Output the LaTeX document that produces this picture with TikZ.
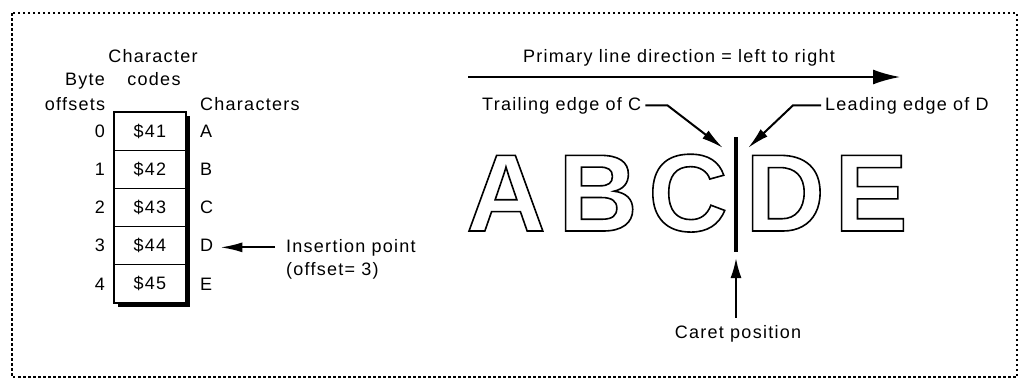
\documentclass[tikz,border=0pt]{standalone}
\usepackage{fontspec}
\setmainfont{Liberation Sans}[LetterSpace=7]
\newfontfamily\bigletters{Liberation Sans Bold}
\usepackage{tikz}
\usetikzlibrary{arrows.meta}
\tikzset{
  frame/.style={line width=1.5pt, dash pattern=on 2.5pt off 2.5pt},
  txt/.style={inner sep=0pt},
  cell/.style={draw, fill=white, line width=1.3pt,
    minimum width=72pt, minimum height=38.2pt, inner sep=0pt},
  pointer/.style={-{Latex[length=22pt,width=10pt]}, line width=2pt},
  letter/.style={anchor=base, inner sep=0pt,
    font=\bigletters\fontsize{110}{110}\selectfont,
    execute at begin node={\special{pdf:literal 1 Tr 1.6 w}},
    execute at end node={\special{pdf:literal 0 Tr 0.4 w}}}
  }

\begin{document}
\begin{tikzpicture}[x=1pt, y=-1pt, font=\fontsize{18}{22}\selectfont]
    \useasboundingbox (0,0) rectangle (1024,380);
    \draw[frame] (12,13) rectangle (1017,377);
    % table headers
    \node[txt, anchor=base] (codehdr) at (153,62) {Character};
    \node[txt, anchor=base] (codehdr2) at (154,85) {codes};
    \node[txt, anchor=base] (offhdr) at (85,85) {Byte};
    \node[txt, anchor=base] (offhdr2) at (75,110) {offsets};
    \node[txt, anchor=base west] (charhdr) at (200,110) {Characters};
    % code table
    \fill (118,116) rectangle (190,307);
    \node[cell] (row0) at (150,131.1) {\$41};
    \node[cell] (row1) at (150,169.3) {\$42};
    \node[cell] (row2) at (150,207.5) {\$43};
    \node[cell] (row3) at (150,245.7) {\$44};
    \node[cell] (row4) at (150,283.9) {\$45};
    \node[txt, anchor=east] (off0) at (105,131.1) {0};
    \node[txt, anchor=east] (off1) at (105,169.3) {1};
    \node[txt, anchor=east] (off2) at (105,207.5) {2};
    \node[txt, anchor=east] (off3) at (105,245.7) {3};
    \node[txt, anchor=east] (off4) at (105,283.9) {4};
    \node[txt, anchor=west] (chA) at (200,131.1) {A};
    \node[txt, anchor=west] (chB) at (200,169.3) {B};
    \node[txt, anchor=west] (chC) at (200,207.5) {C};
    \node[txt, anchor=west] (chD) at (200,245.7) {D};
    \node[txt, anchor=west] (chE) at (200,283.9) {E};
    \node[txt, anchor=base west] (ins) at (286,252) {Insertion point};
    \node[txt, anchor=base west] (insoff) at (286,275) {(offset= 3)};
    \draw[pointer, shorten <=11pt, shorten >=7pt] (ins.west) -- (ins.west -| chD.east);
    % line direction
    \node[txt, anchor=base] (dir) at (679,62) {Primary line direction = left to right};
    \coordinate (dirL) at (468,77);
    \coordinate (dirR) at (900,77);
    \draw[pointer, -{Latex[length=27pt,width=15pt]}] (dirL) -- (dirR);
    % caret and edges
    \coordinate (caretTop) at (736,137);
    \coordinate (caretBot) at (736,252);
    \draw[line width=4pt] (caretTop) -- (caretBot);
    \node[txt, anchor=base west] (trail) at (482,110) {Trailing edge of C};
    \node[txt, anchor=base west] (lead) at (825,110) {Leading edge of D};
    \coordinate (trailTip) at (723,148);
    \coordinate (leadTip) at (748,148);
    \draw[pointer, shorten <=4pt] (trail.east) -- ++(26,0) -- (trailTip);
    \draw[pointer, shorten <=4pt] (lead.west) -- ++(-32,0) -- (leadTip);
    \node[txt, anchor=base] (caretLbl) at (738,338) {Caret position};
    \draw[pointer, -{Latex[length=20pt,width=11pt]}, shorten <=7pt, shorten >=6pt]
      (caretBot |- caretLbl.north) -- (caretBot);
    % outlined letters
    \node[letter] (bigA) at (506,231) {A};
    \node[letter] (bigB) at (598,231) {B};
    \node[letter] (bigC) at (688,231) {C};
    \node[letter] (bigD) at (785,231) {D};
    \node[letter] (bigE) at (871,231) {E};
  \end{tikzpicture}
\end{document}
